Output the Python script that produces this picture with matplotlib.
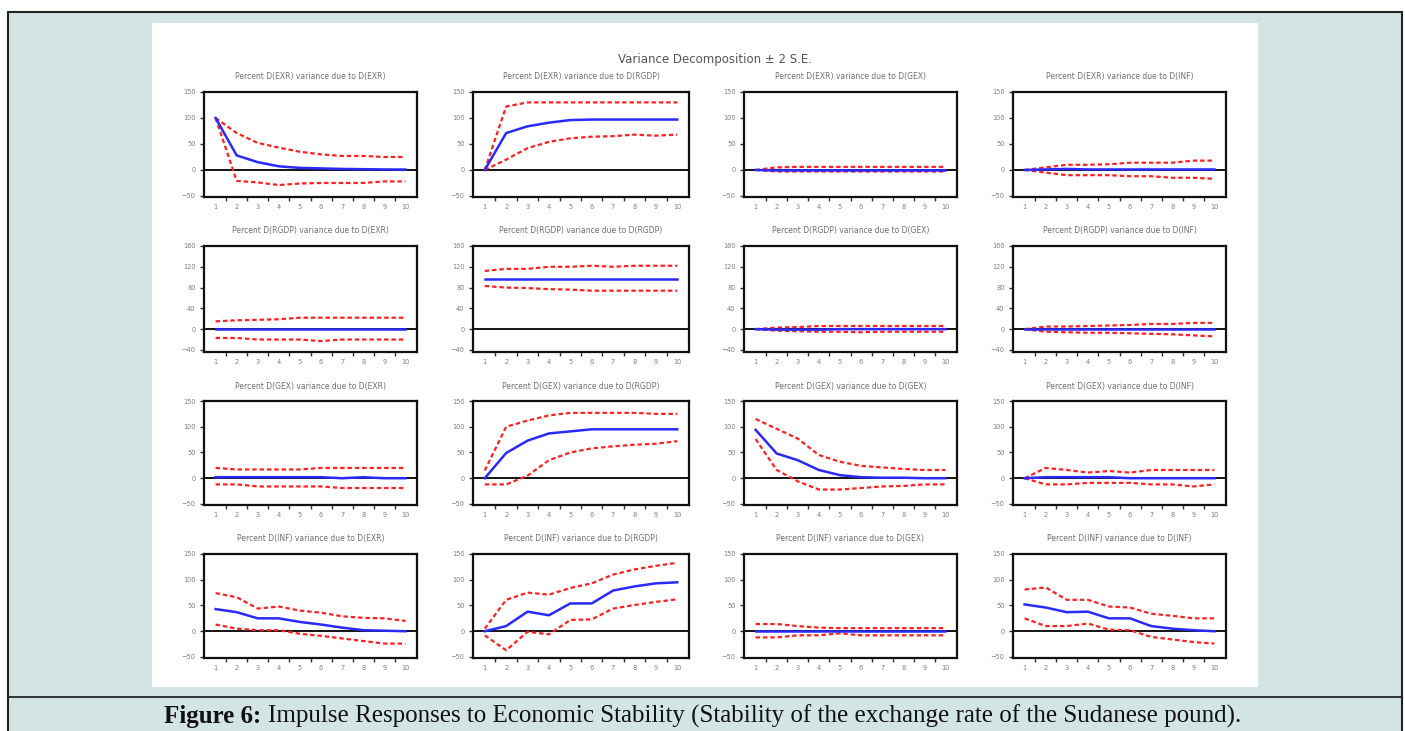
import numpy as np
import matplotlib
matplotlib.use('Agg')
import matplotlib.pyplot as plt
from matplotlib.patches import Rectangle
from matplotlib.lines import Line2D

# periods and variable names
periods = [1, 2, 3, 4, 5, 6, 7, 8, 9, 10]
variables = ['EXR', 'RGDP', 'GEX', 'INF']

# each panel: [estimate, upper band, lower band]  (row = response, col = shock)
exr_exr = [[100, 28, 15, 7, 4, 3, 2, 1.5, 1, 0.8],
           [100, 71, 52, 43, 35, 30, 27, 27, 25, 25],
           [100, -21, -24, -29, -26, -25, -25, -25, -22, -22]]
exr_rgdp = [[0, 71, 84, 91, 96, 97, 97, 97, 97, 97],
            [0, 122, 130, 130, 130, 130, 130, 130, 130, 130],
            [0, 20, 42, 54, 61, 64, 65, 68, 66, 68]]
exr_gex = [[0, -1, -1, -1, -1, -1, -1, -1, -1, -1],
           [0, 5, 6, 6, 6, 6, 6, 6, 6, 6],
           [0, -3, -3, -3, -3, -3, -3, -3, -3, -3]]
exr_inf = [[0, 1, 2, 1, 1, 1, 1, 1, 1, 1],
           [0, 5, 10, 10, 11, 14, 14, 14, 18, 18],
           [0, -5, -10, -10, -10, -12, -12, -15, -15, -17]]

rgdp_exr = [[0, 0, 0, 0, 0, 0, 0, 0, 0, 0],
            [15, 17, 18, 19, 22, 22, 22, 22, 22, 22],
            [-17, -17, -20, -20, -20, -23, -20, -20, -20, -20]]
rgdp_rgdp = [[96, 96, 96, 96, 96, 96, 96, 96, 96, 96],
             [112, 116, 116, 120, 120, 122, 120, 122, 122, 122],
             [83, 80, 79, 77, 76, 74, 74, 74, 74, 74]]
rgdp_gex = [[0, -1, -1, -1, 0, 0, 0, 0, 0, 0],
            [0, 3, 4, 6, 6, 6, 6, 6, 6, 6],
            [0, -3, -4, -5, -5, -6, -5, -5, -5, -5]]
rgdp_inf = [[0, 0, 0, 0, 0, 0, 0, 0, 0, 0],
            [0, 5, 5, 6, 7, 8, 10, 10, 12, 12],
            [0, -5, -6, -7, -7, -8, -9, -10, -12, -14]]

gex_exr = [[2, 2, 2, 2, 2, 2, 0, 2, 0, 0],
           [20, 17, 17, 17, 17, 20, 20, 20, 20, 20],
           [-12, -12, -16, -16, -16, -16, -19, -19, -19, -19]]
gex_rgdp = [[0, 49, 73, 87, 91, 95, 95, 95, 95, 95],
            [15, 100, 112, 122, 127, 127, 127, 127, 125, 125],
            [-12, -12, 5, 35, 50, 58, 62, 65, 67, 72]]
gex_gex = [[94, 48, 35, 16, 6, 2, 1, 1, 0, 0],
           [115, 96, 77, 45, 32, 24, 21, 18, 16, 16],
           [76, 16, -6, -22, -22, -19, -16, -15, -12, -12]]
gex_inf = [[0, 2, 2, 2, 2, 0, 0, 0, 0, 0],
           [0, 20, 16, 11, 14, 11, 16, 16, 16, 16],
           [0, -12, -12, -9, -9, -9, -12, -12, -16, -12]]

inf_exr = [[43, 37, 25, 25, 18, 13, 7, 2, 1, 0],
           [74, 66, 44, 48, 40, 36, 29, 26, 25, 20],
           [13, 5, 2, 2, -5, -9, -14, -19, -24, -24]]
inf_rgdp = [[0, 10, 38, 31, 54, 54, 79, 87, 93, 95],
            [5, 61, 75, 71, 84, 93, 110, 120, 127, 133],
            [-8, -37, -1, -6, 22, 23, 44, 51, 57, 62]]
inf_gex = [[0, 0, 0, 0, 0, 0, 0, 0, 0, 0],
           [14, 14, 10, 7, 6, 6, 6, 6, 6, 6],
           [-12, -12, -8, -8, -4, -8, -8, -8, -8, -8]]
inf_inf = [[52, 46, 37, 38, 25, 25, 10, 5, 2, 0],
           [81, 85, 61, 61, 48, 46, 34, 30, 25, 25],
           [25, 10, 10, 15, 3, 2, -11, -16, -21, -24]]

panels = [[exr_exr, exr_rgdp, exr_gex, exr_inf],
          [rgdp_exr, rgdp_rgdp, rgdp_gex, rgdp_inf],
          [gex_exr, gex_rgdp, gex_gex, gex_inf],
          [inf_exr, inf_rgdp, inf_gex, inf_inf]]

# y axis setup per row
row_ticks = [[-50, 0, 50, 100, 150],
             [-40, 0, 40, 80, 120, 160],
             [-50, 0, 50, 100, 150],
             [-50, 0, 50, 100, 150]]
row_lims = [(-52, 150), (-44, 160), (-52, 150), (-52, 150)]

W, H = 1405, 731
fig = plt.figure(figsize=(W / 100, H / 100), dpi=100)
fig.patch.set_facecolor('white')

def fx(px):
    return px / W

def fy(py):
    return 1 - py / H

teal = '#d2e5e4'
# outer frame and white panel
fig.patches.append(Rectangle((fx(8), fy(735)), fx(1402) - fx(8), fy(12) - fy(735),
                             transform=fig.transFigure, facecolor=teal,
                             edgecolor='#222222', linewidth=1.5, zorder=0))
fig.patches.append(Rectangle((fx(152), fy(687)), fx(1258) - fx(152), fy(23) - fy(687),
                             transform=fig.transFigure, facecolor='white',
                             edgecolor='none', zorder=1))
fig.lines.append(Line2D([fx(8), fx(1402)], [fy(697), fy(697)], transform=fig.transFigure,
                        color='#222222', linewidth=1.3))

fig.text(fx(715), fy(60), 'Variance Decomposition \u00b1 2 S.E.', ha='center', va='center',
         fontsize=8.5, color='#555555')

col_x = [(204, 417), (473, 689), (744, 957), (1013, 1226)]
row_y = [(92, 197), (246, 352), (401, 505), (554, 658)]

for r in range(4):
    for c in range(4):
        x0, x1 = col_x[c]
        y0, y1 = row_y[r]
        ax = fig.add_axes([fx(x0), fy(y1), fx(x1) - fx(x0), fy(y0) - fy(y1)])
        ax.set_zorder(3)
        mid, up, lo = panels[r][c]
        ax.axhline(0, color='black', linewidth=1.3, zorder=1)
        ax.plot(periods, up, color='#ff2020', linewidth=1.6, linestyle=(0, (2, 1.3)), zorder=2)
        ax.plot(periods, lo, color='#ff2020', linewidth=1.6, linestyle=(0, (2, 1.3)), zorder=2)
        ax.plot(periods, mid, color='#2a2aff', linewidth=1.8, zorder=3)
        ax.set_xlim(0.45, 10.55)
        ax.set_ylim(*row_lims[r])
        ax.set_xticks(periods)
        ax.set_xticks(np.arange(1.5, 10.5, 1.0), minor=True)
        ax.set_yticks(row_ticks[r])
        ax.tick_params(axis='both', which='major', labelsize=4.8, labelcolor='#808080',
                       length=3, width=1, color='#333333', direction='out', pad=3)
        ax.tick_params(axis='x', which='major', length=0, pad=5)
        ax.tick_params(axis='x', which='minor', length=3, width=1, color='#333333')
        for s in ax.spines.values():
            s.set_linewidth(1.6)
            s.set_color('#111111')
        ax.set_title('Percent D(%s) variance due to D(%s)' % (variables[r], variables[c]),
                     fontsize=5.5, color='#707070', pad=9)

# caption with bold lead
renderer = fig.canvas.get_renderer()
cap_y = fy(716)
t1 = fig.text(0, cap_y, 'Figure 6: ', fontsize=18, fontweight='bold',
              family='Liberation Serif', va='center', color='#111111')
t2 = fig.text(0, cap_y, 'Impulse Responses to Economic Stability (Stability of the exchange rate of the Sudanese pound).',
              fontsize=18, family='Liberation Serif', va='center', color='#111111')
w1 = t1.get_window_extent(renderer).width
w2 = t2.get_window_extent(renderer).width
start = (W - w1 - w2) / 2
t1.set_x(fx(start))
t2.set_x(fx(start + w1))

plt.savefig('out.png', dpi=100, facecolor=fig.get_facecolor())
